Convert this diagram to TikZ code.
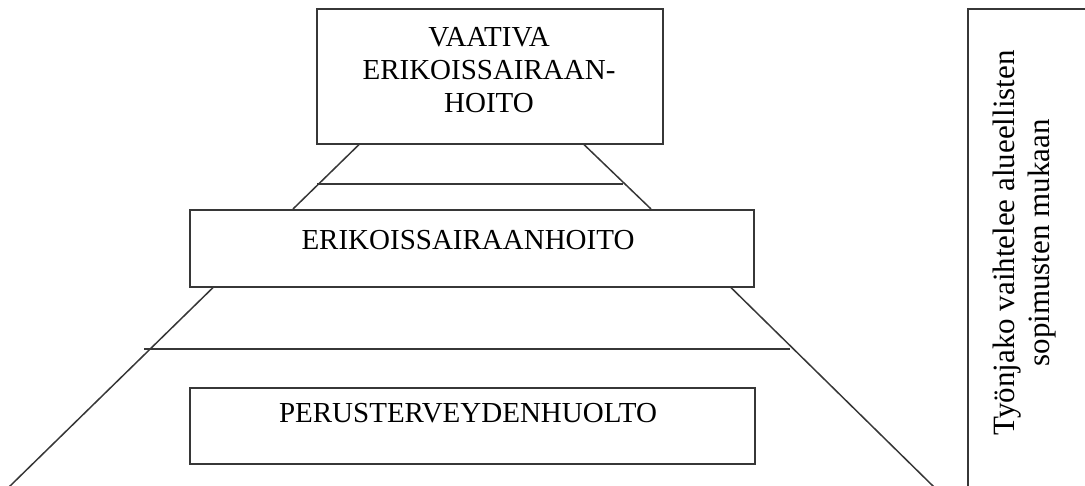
\documentclass[tikz,border=0pt]{standalone}
\usepackage{fontspec}
\setmainfont{Liberation Serif}
\usetikzlibrary{calc}
\definecolor{linegray}{RGB}{55,55,55}
\begin{document}
\begin{tikzpicture}[x=1pt,y=-1pt,
  box/.style={draw=linegray, line width=1.6pt, rectangle, inner sep=0pt, anchor=north west},
  lbl/.style={font=\fontsize{29}{33}\selectfont, inner sep=0pt, align=center},
  sidelbl/.style={font=\fontsize{31}{35}\selectfont, inner sep=0pt, align=center},
  edge/.style={draw=linegray, line width=1.5pt}]
\useasboundingbox (0,0) rectangle (1085,486);
\clip (0,0) rectangle (1085,486);
% boxes
\node[box, minimum width=346, minimum height=135] (top) at (316,8) {};
\node[box, minimum width=564, minimum height=77] (mid) at (189,209) {};
\node[box, minimum width=565, minimum height=76] (bot) at (189,387) {};
\node[box, minimum width=160, minimum height=500] (side) at (967,8) {};
% free ends
\coordinate (h1l) at (317,184);
\coordinate (h1r) at (623,184);
\coordinate (h2l) at (144,349);
\coordinate (h2r) at (790,349);
\coordinate (bl) at (8,488);
\coordinate (br) at (935,488);
% upper trapezoid
\draw[edge] ($(top.south west)+(43,0)$) -- ($(mid.north west)+(104,0)$);
\draw[edge] ($(top.south west)+(268,0)$) -- ($(mid.north west)+(462,0)$);
\draw[edge] (h1l) -- (h1r);
% lower trapezoid
\draw[edge] ($(mid.south west)+(24,0)$) -- (bl);
\draw[edge] ($(mid.south west)+(542,0)$) -- (br);
\draw[edge] (h2l) -- (h2r);
% labels
\node[lbl, anchor=north] (ttxt) at (489,27) {VAATIVA\\ERIKOISSAIRAAN-\\HOITO};
\node[lbl, anchor=base] (mtxt) at (468,250) {ERIKOISSAIRAANHOITO};
\node[lbl, anchor=base] (btxt) at (468,423) {PERUSTERVEYDENHUOLTO};
\node[sidelbl, rotate=90] (stxt) at (1025,243) {Työnjako vaihtelee alueellisten\\sopimusten mukaan};
\end{tikzpicture}
\end{document}
